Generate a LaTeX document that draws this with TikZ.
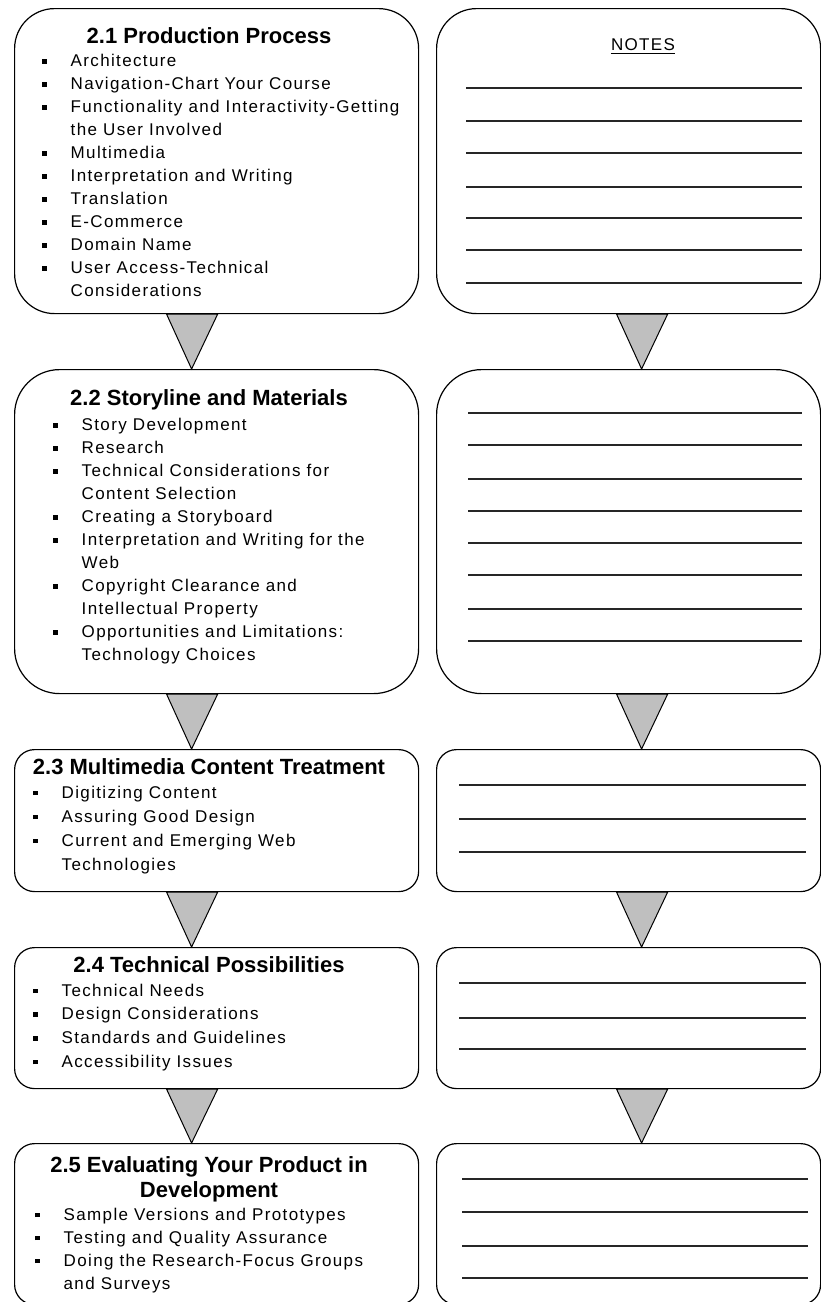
\documentclass[tikz,border=0pt]{standalone}
\usepackage{fontspec}
\setmainfont{Liberation Sans}
\newfontfamily\bodyfont[LetterSpace=8]{Liberation Sans}

\newcommand\bul{\makebox[28.5pt][l]{\rule[3pt]{4.5pt}{4.5pt}}}
\newcommand\cont{\hspace*{28.5pt}}

\tikzset{
  x=1pt, y=-1pt,
  panel/.style={draw=black, line width=1.2pt, fill=white, rounded corners=#1,
                inner sep=0pt, anchor=north west},
  heading/.style={font=\fontsize{22}{25}\selectfont\bfseries, inner sep=0pt, anchor=base},
  items/.style={font=\bodyfont\fontsize{17}{#1}\selectfont, align=left,
                inner sep=0pt, anchor=north west},
  items/.default=23,
  pointer/.style={draw=black, line width=1pt, fill=black!25, line join=miter},
  writeline/.style={line width=1.5pt, draw=black!85},
}

\begin{document}
\begin{tikzpicture}
\useasboundingbox (0,0) rectangle (821,1302);
\clip (0,0) rectangle (821,1302);

% topic panels (left column)
\node[panel=40, minimum width=404pt, minimum height=305pt] (b1) at (14,8) {};
\node[panel=45, minimum width=404pt, minimum height=324pt] (b2) at (14,369) {};
\node[panel=20, minimum width=404pt, minimum height=142pt] (b3) at (14,749) {};
\node[panel=20, minimum width=404pt, minimum height=141pt] (b4) at (14,947) {};
\node[panel=20, minimum width=404pt, minimum height=161pt] (b5) at (14,1143) {};

% notes panels (right column)
\node[panel=40, minimum width=384pt, minimum height=305pt] (n1) at (436,8) {};
\node[panel=45, minimum width=384pt, minimum height=324pt] (n2) at (436,369) {};
\node[panel=20, minimum width=384pt, minimum height=142pt] (n3) at (436,749) {};
\node[panel=20, minimum width=384pt, minimum height=141pt] (n4) at (436,947) {};
\node[panel=20, minimum width=384pt, minimum height=161pt] (n5) at (436,1143) {};

% downward pointers between panels
\foreach \a/\b in {b1/b2, b2/b3, b3/b4, b4/b5} {
  \draw[pointer] ([xshift=-50pt]\a.south) -- ([xshift=1pt]\a.south)
                 -- ([xshift=-25pt]\b.north) -- cycle;
}
\foreach \a/\b in {n1/n2, n2/n3, n3/n4, n4/n5} {
  \draw[pointer] ([xshift=-12pt]\a.south) -- ([xshift=39pt]\a.south)
                 -- ([xshift=13pt]\b.north) -- cycle;
}

% 2.1
\node[heading] (t1) at (209,43) {2.1 Production Process};
\node[items] (l1) at (42,50.25) {\strut\bul Architecture\\
  \bul Navigation-Chart Your Course\\
  \bul Functionality and Interactivity-Getting\\
  \cont the User Involved\\
  \bul Multimedia\\
  \bul Interpretation and Writing\\
  \bul Translation\\
  \bul E-Commerce\\
  \bul Domain Name\\
  \bul User Access-Technical\\
  \cont Considerations};

% 2.2
\node[heading] (t2) at (209,405) {2.2 Storyline and Materials};
\node[items] (l2) at (53,414.25) {\strut\bul Story Development\\
  \bul Research\\
  \bul Technical Considerations for\\
  \cont Content Selection\\
  \bul Creating a Storyboard\\
  \bul Interpretation and Writing for the\\
  \cont Web\\
  \bul Copyright Clearance and\\
  \cont Intellectual Property\\
  \bul Opportunities and Limitations:\\
  \cont Technology Choices};

% 2.3
\node[heading] (t3) at (209,774) {2.3 Multimedia Content Treatment};
\node[items=24] (l3) at (33,781.2) {\strut\bul Digitizing Content\\
  \bul Assuring Good Design\\
  \bul Current and Emerging Web\\
  \cont Technologies};

% 2.4
\node[heading] (t4) at (209,972) {2.4 Technical Possibilities};
\node[items=23.7] (l4) at (33,979.4) {\strut\bul Technical Needs\\
  \bul Design Considerations\\
  \bul Standards and Guidelines\\
  \bul Accessibility Issues};

% 2.5
\node[heading] (t5) at (209,1172) {2.5 Evaluating Your Product in};
\node[heading] (t5b) at (209,1197) {Development};
\node[items] (l5) at (35,1203.9) {\strut\bul Sample Versions and Prototypes\\
  \bul Testing and Quality Assurance\\
  \bul Doing the Research-Focus Groups\\
  \cont and Surveys};

% notes heading
\node[font=\bodyfont\fontsize{17}{20}\selectfont, inner sep=0pt, anchor=base] (notes) at (643,50) {NOTES};
\draw[line width=1pt] ([yshift=-3pt]notes.base west) -- ([yshift=-3pt]notes.base east);

% writing lines
\foreach \y in {88,121,153,187,218,250,283} \draw[writeline] (466,\y) -- (802,\y);
\foreach \y in {413,445,479,511,543,575,609,641} \draw[writeline] (468,\y) -- (802,\y);
\foreach \y in {785,819,852} \draw[writeline] (459,\y) -- (806,\y);
\foreach \y in {983,1018,1049} \draw[writeline] (459,\y) -- (806,\y);
\foreach \y in {1179,1212,1246,1278} \draw[writeline] (462,\y) -- (808,\y);
\end{tikzpicture}
\end{document}
